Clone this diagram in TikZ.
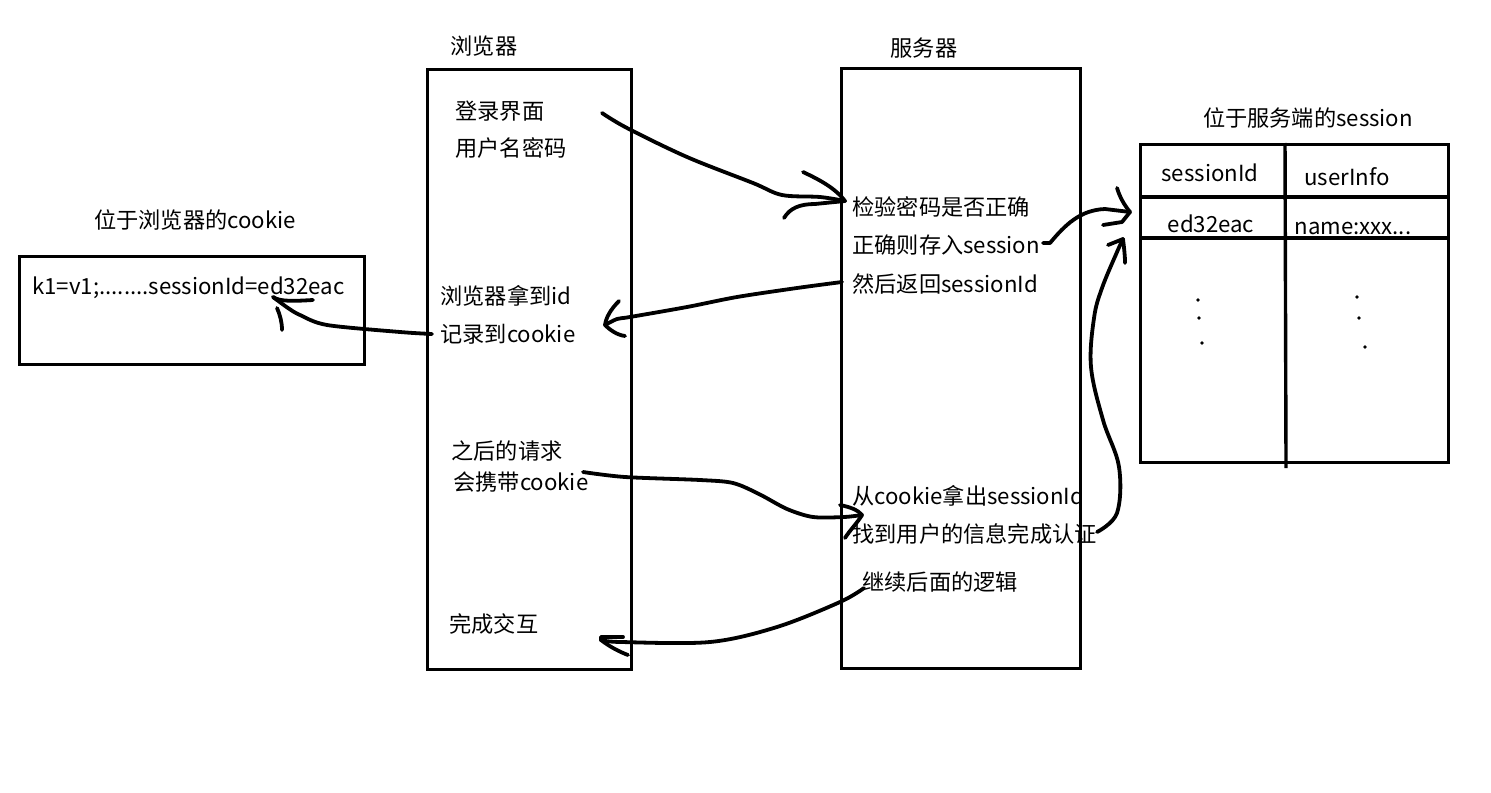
\documentclass[tikz,border=0pt]{standalone}
\usepackage{fontspec}
\setmainfont{Noto Sans CJK SC}
\begin{document}
\begin{tikzpicture}[x=0.5pt,y=-0.5pt,
  box/.style={draw, line width=1.7pt, inner sep=0pt, anchor=north west},
  txt/.style={anchor=west, inner sep=0pt, font=\fontsize{11.1}{13}\selectfont},
  ctxt/.style={anchor=center, inner sep=0pt, font=\fontsize{11.1}{13}\selectfont},
  pen/.style={line width=1.9pt, line cap=round, line join=round},
  rule/.style={line width=1.7pt},
  dotmark/.style={circle, fill, inner sep=0pt, minimum size=1.8pt},
]
\useasboundingbox[fill=white] (0,0) rectangle (1491,792);

% ---------- boxes ----------
\node[box, minimum width=172.5pt, minimum height=54pt] (cookiebox) at (18,255) {};
\node[box, minimum width=102pt, minimum height=300pt] (browser) at (426,68) {};
\node[box, minimum width=119.5pt, minimum height=300pt] (server) at (840,67) {};
\node[box, minimum width=154pt, minimum height=159pt] (table) at (1139,143) {};
\draw[rule] (table.west |- 0,197) -- (table.east |- 0,197);
\draw[rule] (table.west |- 0,238) -- (table.east |- 0,238);
\draw[rule] (1285,143) -- (1286,468);

% ---------- titles ----------
\node[ctxt] (tcookie) at (195,220) {位于浏览器的cookie};
\node[ctxt] (tbrowser) at (484,46) {浏览器};
\node[ctxt] (tserver) at (924,48) {服务器};
\node[ctxt] (tsession) at (1308,118) {位于服务端的session};

% ---------- cookie ----------
\node[txt] (cookie) at (32,288) {k1=v1;........sessionId=ed32eac};

% ---------- browser texts ----------
\node[txt] (b1) at (455,111) {登录界面};
\node[txt] (b2) at (455,148) {用户名密码};
\node[txt] (b3) at (440,296) {浏览器拿到id};
\node[txt] (b4) at (440,334) {记录到cookie};
\node[txt] (b5) at (451,451) {之后的请求};
\node[txt] (b6) at (453,482) {会携带cookie};
\node[txt] (b7) at (449,624) {完成交互};

% ---------- server texts ----------
\node[txt] (s1) at (852,207) {检验密码是否正确};
\node[txt] (s2) at (852,245) {正确则存入session};
\node[txt] (s3) at (852,284) {然后返回sessionId};
\node[txt] (s4) at (852,496) {从cookie拿出sessionId};
\node[txt] (s5) at (852,534) {找到用户的信息完成认证};
\node[txt] (s6) at (862,582) {继续后面的逻辑};

% ---------- session table ----------
\node[ctxt] (h1) at (1210,173) {sessionId};
\node[ctxt] (h2) at (1347,177) {userInfo};
\node[ctxt] (r1) at (1211,224) {ed32eac};
\node[ctxt] (r2) at (1353,228) {name:xxx...};
\node[dotmark] (d1) at (1198,300) {};
\node[dotmark] (d2) at (1199,318) {};
\node[dotmark] (d3) at (1202,343) {};
\node[dotmark] (d4) at (1357,297) {};
\node[dotmark] (d5) at (1359,318) {};
\node[dotmark] (d6) at (1365,347) {};

% ---------- connector end points ----------
\coordinate (a1s) at (602,113);  \coordinate (a1e) at (845,201);
\coordinate (a2s) at (1043,243); \coordinate (a2e) at (1130,212);
\coordinate (a3s) at (1097,532); \coordinate (a3e) at (1123,239);
\coordinate (a4s) at (842,282);  \coordinate (a4e) at (605,325);
\coordinate (a5s) at (432,334);  \coordinate (a5e) at (273,297);
\coordinate (a6s) at (583,472);  \coordinate (a6e) at (862,515);
\coordinate (a7s) at (864,588);  \coordinate (a7e) at (601,640);

% arrow 1: login -> check password
\draw[pen] plot[smooth, tension=0.55] coordinates {(a1s) (627,128) (687,157) (753,183) (782,195) (820,197) (a1e)};
\draw[pen] (803,172) .. controls (820,180) and (835,188) .. (a1e);
\draw[pen] (784,218) .. controls (790,208) and (800,204) .. (815,204) -- (a1e);

% arrow 2: store session -> table
\draw[pen] (a2s) -- (1050,243) .. controls (1065,225) and (1080,210) .. (1105,209) -- (a2e);
\draw[pen] (1117,188) .. controls (1120,198) and (1125,206) .. (a2e);
\draw[pen] (1103,225) -- (1122,222) -- (a2e);

% arrow 3: find user -> table
\draw[pen] plot[smooth, tension=0.6] coordinates {(a3s) (1117,513) (1119,467) (1103,420) (1091,367) (1094,318) (1102,288) (1117,252) (a3e)};
\draw[pen] (1108,245) -- (a3e);
\draw[pen] (a3e) .. controls (1124,248) and (1125,255) .. (1125,263);

% arrow 4: return sessionId -> browser
\draw[pen] plot[smooth, tension=0.5] coordinates {(a4s) (797,288) (737,297) (687,307) (630,317) (617,319) (a4e)};
\draw[pen] (619,301) .. controls (610,310) and (606,318) .. (a4e);
\draw[pen] (a4e) .. controls (610,330) and (617,335) .. (625,336);

% arrow 5: browser -> cookie
\draw[pen] plot[smooth, tension=0.5] coordinates {(a5s) (400,332) (327,325) (300,315) (288,308) (a5e)};
\draw[pen] (a5e) .. controls (280,302) and (295,301) .. (313,300);
\draw[pen] (277,308) .. controls (280,315) and (282,322) .. (282,330);

% arrow 6: request with cookie -> server
\draw[pen] plot[smooth, tension=0.5] coordinates {(a6s) (625,477) (700,480) (733,483) (759,494) (787,509) (813,517) (844,517) (a6e)};
\draw[pen] (840,505) .. controls (850,507) and (858,510) .. (a6e);
\draw[pen] (a6e) .. controls (858,522) and (850,530) .. (845,538);

% arrow 7: continue -> finish interaction
\draw[pen] plot[smooth, tension=0.55] coordinates {(a7s) (840,602) (777,627) (710,642) (621,642) (a7e)};
\draw[pen] (a7e) -- (601,637) -- (623,637);
\draw[pen] (a7e) .. controls (610,647) and (620,652) .. (628,655);

\end{tikzpicture}
\end{document}
